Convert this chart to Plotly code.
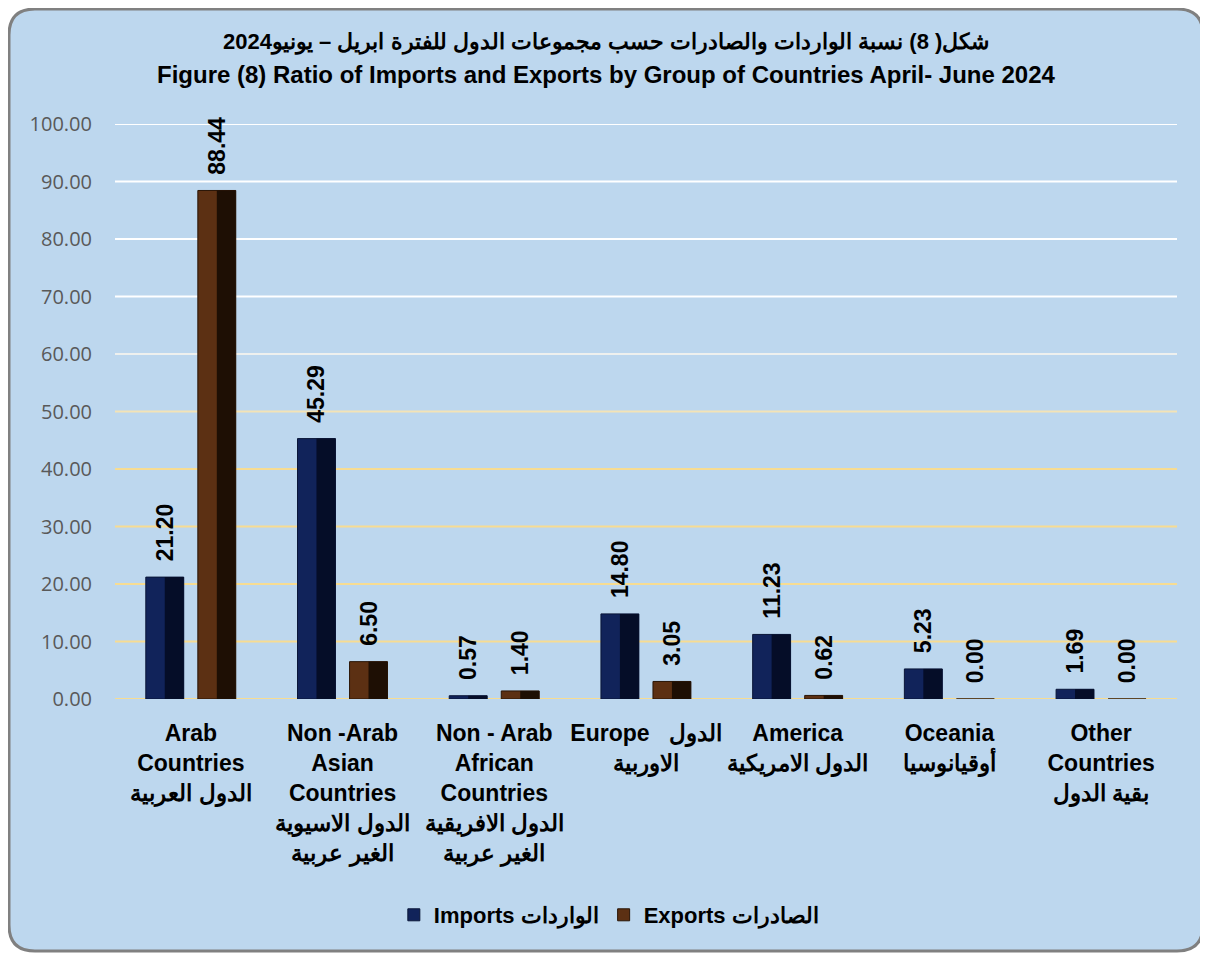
import plotly.graph_objects as go

# category labels (English + Arabic)
categories = [
    "<b>Arab<br>Countries<br>الدول العربية</b>",
    "<b>Non -Arab<br>Asian<br>Countries<br>الدول الاسيوية<br>الغير عربية</b>",
    "<b>Non - Arab<br>African<br>Countries<br>الدول الافريقية<br>الغير عربية</b>",
    "<b>Europe   الدول<br>الاوربية</b>",
    "<b>America<br>الدول الامريكية</b>",
    "<b>Oceania<br>أوقيانوسيا</b>",
    "<b>Other<br>Countries<br>بقية الدول</b>",
]
imports = [21.20, 45.29, 0.57, 14.80, 11.23, 5.23, 1.69]
exports = [88.44, 6.50, 1.40, 3.05, 0.62, 0.00, 0.00]
tick_vals = [0, 10, 20, 30, 40, 50, 60, 70, 80, 90, 100]
grid_colors = ["#f7dc92", "#f7dc92", "#f7dc92", "#f7dc92", "#f7dc92", "#f3e3b6",
               "#eef0ee", "#ffffff", "#ffffff", "#ffffff", "#ffffff"]

title_ar = "<b>شكل( 8) نسبة الواردات والصادرات حسب مجموعات الدول للفترة ابريل – يونيو2024</b>"
title_en = "<b>Figure (8) Ratio of Imports and Exports by Group of Countries April- June 2024</b>"

# the page body has an 8px margin, so the figure is a bit smaller than the window
W, H = 1200, 948
ML, MR, MT, MB = 107, 31, 116, 257
PW, PH = W - ML - MR, H - MT - MB

BW = 0.25  # bar width in category units


def px2paper(x, y):
    return (x - ML) / PW, (H - MB - y) / PH


def rounded_box(x0, y0, x1, y1, r):
    def P(x, y):
        px, py = px2paper(x, y)
        return f"{px:.5f},{py:.5f}"
    pts = ["M" + P(x0 + r, y0),
           "L" + P(x1 - r, y0),
           "Q" + P(x1, y0) + " " + P(x1, y0 + r),
           "L" + P(x1, y1 - r),
           "Q" + P(x1, y1) + " " + P(x1 - r, y1),
           "L" + P(x0 + r, y1),
           "Q" + P(x0, y1) + " " + P(x0, y1 - r),
           "L" + P(x0, y0 + r),
           "Q" + P(x0, y0) + " " + P(x0 + r, y0)]
    return " ".join(pts) + " Z"


def labels(vals):
    # two non-breaking spaces keep the label off the bar top
    return ["\u00a0\u00a0<b>%.2f</b>" % v for v in vals]


label_font = dict(size=23, color="black", family="Liberation Sans")

fig = go.Figure()

# main bars (left face colour) with labels
fig.add_trace(go.Bar(
    x=categories, y=imports, name="<b>Imports الواردات</b>",
    offset=-0.297, width=BW,
    marker=dict(color="#11235a", line=dict(color="#0a1638", width=1)),
    text=labels(imports), textposition="outside", textangle=-90,
    textfont=label_font, constraintext="none", cliponaxis=False,
))
fig.add_trace(go.Bar(
    x=categories, y=exports, name="<b>Exports الصادرات</b>",
    offset=0.046, width=BW,
    marker=dict(color="#5c3013", line=dict(color="#2a1405", width=1)),
    text=labels(exports), textposition="outside", textangle=-90,
    textfont=label_font, constraintext="none", cliponaxis=False,
))
# darker right faces
fig.add_trace(go.Bar(
    x=categories, y=imports, offset=-0.297 + BW / 2, width=BW / 2,
    marker=dict(color="#050d28", line=dict(width=0)),
    showlegend=False, hoverinfo="skip",
))
fig.add_trace(go.Bar(
    x=categories, y=exports, offset=0.046 + BW / 2, width=BW / 2,
    marker=dict(color="#1e0f04", line=dict(width=0)),
    showlegend=False, hoverinfo="skip",
))

shapes = [dict(type="path", xref="paper", yref="paper",
               path=rounded_box(1, 1, 1195, 943, 26),
               fillcolor="#bdd7ee", line=dict(color="#808080", width=3),
               layer="below")]
for v, c in zip(tick_vals, grid_colors):
    shapes.append(dict(type="line", xref="paper", yref="y", x0=0, x1=1,
                       y0=v, y1=v, line=dict(color=c, width=2), layer="below"))

title_x = px2paper(598, 0)[0]
annotations = [
    dict(text=title_ar, xref="paper", yref="paper", x=title_x, y=px2paper(0, 34)[1],
         xanchor="center", yanchor="middle", showarrow=False,
         font=dict(size=22, color="black", family="Liberation Sans")),
    dict(text=title_en, xref="paper", yref="paper", x=title_x, y=px2paper(0, 67)[1],
         xanchor="center", yanchor="middle", showarrow=False,
         font=dict(size=24, color="black", family="Liberation Sans")),
]

fig.update_layout(
    width=W, height=H,
    margin=dict(l=ML, r=MR, t=MT, b=MB),
    paper_bgcolor="white",
    plot_bgcolor="rgba(0,0,0,0)",
    barmode="overlay",
    shapes=shapes,
    annotations=annotations,
    xaxis=dict(showgrid=False, showline=False, zeroline=False,
               tickfont=dict(size=23, color="black", family="Liberation Sans"),
               ticklabelstandoff=18),
    yaxis=dict(range=[0, 100], tickvals=tick_vals, tickformat=".2f",
               showgrid=False, zeroline=False, showline=False,
               tickfont=dict(size=20, color="#595959", family="Open Sans"),
               ticklabelstandoff=22),
    legend=dict(orientation="h", x=0.465, xanchor="center",
                y=px2paper(0, 907)[1], yanchor="middle",
                font=dict(size=22, color="black", family="Liberation Sans"),
                bgcolor="rgba(0,0,0,0)", itemwidth=30, traceorder="normal"),
)

fig.write_html("out.html")
